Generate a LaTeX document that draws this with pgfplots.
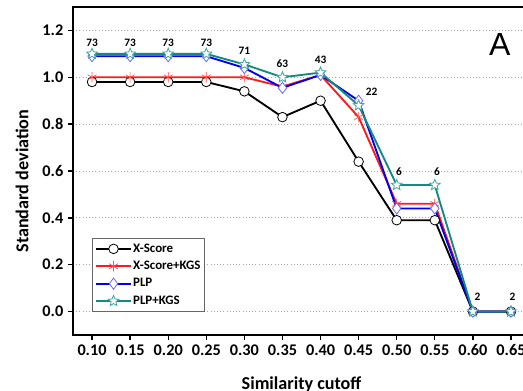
\documentclass[border=0pt]{standalone}
\usepackage{fontspec}
\setmainfont{Carlito}
\newfontfamily\arialfont{Liberation Sans}
\usepackage{pgfplots}
\pgfplotsset{compat=1.18}
\usetikzlibrary{plotmarks}
\definecolor{cteal}{HTML}{138A80}
\definecolor{cblue}{HTML}{0000F0}
\definecolor{cred}{HTML}{FF1A1A}
\definecolor{cdiam}{HTML}{6A6AF5}
\definecolor{cstar}{HTML}{3AA8A0}
\pgfdeclareplotmark{ostar}{%
  \pgfpathmoveto{\pgfpointpolar{90}{\pgfplotmarksize}}%
  \pgfpathlineto{\pgfpointpolar{126}{0.45\pgfplotmarksize}}%
  \pgfpathlineto{\pgfpointpolar{162}{\pgfplotmarksize}}%
  \pgfpathlineto{\pgfpointpolar{198}{0.45\pgfplotmarksize}}%
  \pgfpathlineto{\pgfpointpolar{234}{\pgfplotmarksize}}%
  \pgfpathlineto{\pgfpointpolar{270}{0.45\pgfplotmarksize}}%
  \pgfpathlineto{\pgfpointpolar{306}{\pgfplotmarksize}}%
  \pgfpathlineto{\pgfpointpolar{342}{0.45\pgfplotmarksize}}%
  \pgfpathlineto{\pgfpointpolar{18}{\pgfplotmarksize}}%
  \pgfpathlineto{\pgfpointpolar{54}{0.45\pgfplotmarksize}}%
  \pgfpathclose
  \pgfusepathqfillstroke
}
\begin{document}
\begin{tikzpicture}
\useasboundingbox (-54.75pt,-41.25pt) rectangle (337.5pt,251.25pt);
\clip (-54.75pt,-41.25pt) rectangle (337.5pt,251.25pt);
\begin{axis}[
  scale only axis, width=342.75pt, height=246pt,
  xmin=0.075, xmax=0.675, ymin=-0.1, ymax=1.3,
  xtick={0.10,0.15,0.20,0.25,0.30,0.35,0.40,0.45,0.50,0.55,0.60,0.65},
  ytick={0,0.2,0.4,0.6,0.8,1.0,1.2},
  xticklabel style={/pgf/number format/.cd,fixed,fixed zerofill,precision=2,assume math mode=true},
  yticklabel style={/pgf/number format/.cd,fixed,fixed zerofill,precision=1,assume math mode=true},
  ticklabel style={font=\fontsize{12.2}{14}\selectfont\bfseries},
  xtick pos=bottom, ytick pos=left,
  tick align=outside, major tick length=3.75pt,
  tick style={black, line width=1pt},
  axis line style={black, line width=1.1pt},
  ymajorgrids,
  grid style={gray!70, line width=0.6pt, dash pattern=on 0.8pt off 1.6pt},
  xlabel={Similarity cutoff}, ylabel={Standard deviation},
  label style={font=\fontsize{13.6}{15}\selectfont\bfseries},
  xlabel style={at={(axis description cs:0.5,0)}, anchor=base, yshift=-40.5pt},
  ylabel style={at={(axis description cs:-0.1116,0.4695)}, anchor=center},
  legend style={at={(0.042,0.296)}, anchor=north west, draw=gray!80!black, line width=0.6pt,
    font=\fontsize{9.7}{11}\selectfont\bfseries, row sep=3.2pt, inner xsep=2pt, inner ysep=3pt,
    nodes={inner sep=1pt}},
  legend cell align=left,
  legend image code/.code={\draw[mark repeat=2,mark phase=2] plot coordinates {(0pt,0pt) (13pt,0pt) (26pt,0pt)};},
  every axis plot/.append style={line width=1.4pt},
]
\addplot[black, mark=*, mark size=3.6pt, mark options={fill=white, line width=0.6pt, solid}]
 coordinates {(0.10,0.98)(0.15,0.98)(0.20,0.98)(0.25,0.98)(0.30,0.94)(0.35,0.83)(0.40,0.90)(0.45,0.64)(0.50,0.39)(0.55,0.39)(0.60,0)(0.65,0)};
\addlegendentry{X-Score}
\addplot[cred, mark=asterisk, mark size=3.8pt, mark options={line width=0.5pt, draw=red!70!white}]
 coordinates {(0.10,1.0)(0.15,1.0)(0.20,1.0)(0.25,1.0)(0.30,1.0)(0.35,0.96)(0.40,1.01)(0.45,0.83)(0.50,0.46)(0.55,0.46)(0.60,0)(0.65,0)};
\addlegendentry{X-Score+KGS}
\addplot[cblue, mark=diamond*, mark size=4.2pt, mark options={fill=white, draw=cdiam, line width=0.6pt}]
 coordinates {(0.10,1.09)(0.15,1.09)(0.20,1.09)(0.25,1.09)(0.30,1.04)(0.35,0.955)(0.40,1.01)(0.45,0.90)(0.50,0.44)(0.55,0.44)(0.60,0)(0.65,0)};
\addlegendentry{PLP}
\addplot[cteal, mark=ostar, mark size=4.2pt, mark options={draw=cstar, fill=white, line width=0.6pt}]
 coordinates {(0.10,1.10)(0.15,1.10)(0.20,1.10)(0.25,1.10)(0.30,1.055)(0.35,1.00)(0.40,1.02)(0.45,0.88)(0.50,0.54)(0.55,0.54)(0.60,0)(0.65,0)};
\addlegendentry{PLP+KGS}
\addplot[draw=none, mark=none, forget plot, nodes near coords, point meta=explicit symbolic,
  nodes near coords style={anchor=center, font=\fontsize{8.5}{10}\selectfont\bfseries, black}]
 table[meta=label]{
x y label
0.10 1.145 73
0.15 1.145 73
0.20 1.145 73
0.25 1.145 73
0.30 1.115 71
0.35 1.060 63
0.40 1.076 43
0.467 0.940 22
0.503 0.596 6
0.553 0.596 6
0.606 0.064 2
0.652 0.064 2
};
\node[font=\arialfont\fontsize{24}{28}\selectfont] at (axis cs:0.6355,1.14) {A};
\end{axis}
\end{tikzpicture}
\end{document}
